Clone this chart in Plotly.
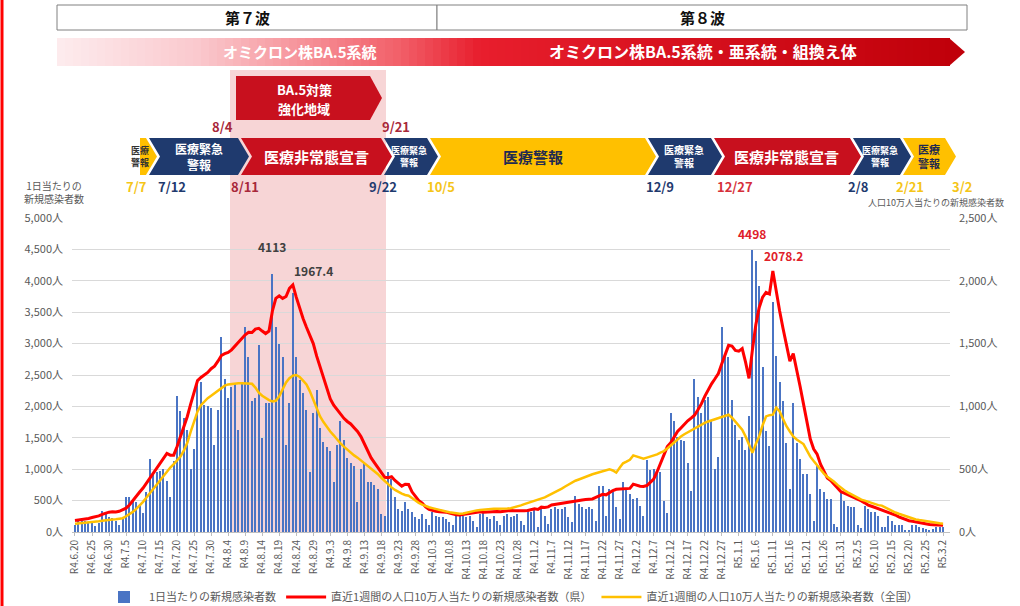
import pandas as pd
import plotly.graph_objects as go

# ---- data ----
START_DATE = "2022-06-20"
END_DATE = "2023-03-02"

# 1日当たりの新規感染者数 (人)
DAILY_CASES = [
    110, 190, 180, 170, 160, 150, 100, 140, 340, 290,
    240, 220, 180, 110, 240, 550, 550, 500, 470, 420,
    300, 630, 1170, 920, 950, 970, 1000, 815, 550, 1130,
    2160, 1920, 1815, 1630, 1000, 1315, 2370, 2390, 2025, 2000,
    1970, 1380, 1950, 3100, 2435, 2130, 2310, 2370, 1630, 2370,
    3270, 2790, 2080, 2130, 2970, 1500, 2060, 2050, 4113, 3270,
    3000, 2790, 1390, 2050, 3810, 2790, 2420, 2210, 1950, 950,
    1890, 2260, 1660, 1430, 1360, 1290, 790, 1380, 1760, 1470,
    1180, 1100, 1050, 470, 1000, 1100, 790, 790, 750, 680,
    290, 260, 950, 840, 550, 370, 340, 470, 370, 320,
    240, 210, 290, 210, 105, 320, 260, 240, 240, 210,
    160, 105, 260, 290, 260, 240, 260, 180, 80, 290,
    320, 240, 210, 260, 180, 105, 260, 290, 240, 260,
    290, 180, 105, 370, 320, 370, 80, 420, 260, 130,
    370, 400, 370, 370, 400, 240, 160, 580, 450, 400,
    370, 400, 370, 180, 740, 730, 260, 680, 630, 400,
    210, 790, 680, 600, 530, 540, 420, 260, 1150, 980,
    1000, 970, 950, 500, 300, 1900, 1760, 1520, 1460, 1450,
    1100, 660, 2430, 2150, 1890, 2100, 2150, 1780, 1000, 1200,
    3260, 2790, 2790, 2100, 1700, 1470, 1520, 1300, 1850, 4498,
    4313, 3919, 2630, 1604, 1368, 3656, 2800, 2390, 2080, 1420,
    690, 2050, 1420, 1160, 920, 920, 600, 180, 1050, 690,
    630, 530, 530, 130, 80, 630, 500, 420, 400, 400,
    105, 60, 420, 370, 320, 320, 260, 80, 80, 260,
    180, 105, 105, 105, 30, 30, 105, 105, 80, 65,
    55, 30, 55, 80, 80, 80,
]

# 直近1週間の人口10万人当たりの新規感染者数（県）
WEEKLY_PREF = [
    92, 95, 98, 102, 108, 115, 120, 128, 140, 152,
    158, 162, 160, 165, 175, 190, 215, 250, 290, 318,
    350, 390, 430, 470, 510, 550, 590, 626, 612, 612,
    680, 760, 840, 920, 1020, 1120, 1205, 1230, 1250, 1270,
    1300, 1320, 1360, 1405, 1420, 1430, 1450, 1480, 1515, 1545,
    1570, 1590, 1588, 1615, 1622, 1600, 1580, 1600, 1760, 1860,
    1880, 1860, 1875, 1940, 1967.4, 1870, 1780, 1700, 1630, 1560,
    1500, 1400, 1310, 1230, 1140, 1060, 1010, 975, 940, 905,
    880, 860, 830, 800, 760, 700, 640, 590, 550, 510,
    470, 435, 432, 440, 410, 385, 365, 380, 378, 320,
    280, 250, 230, 200, 180, 170, 165, 162, 160, 158,
    150, 142, 138, 135, 140, 148, 150, 155, 158, 162,
    158, 160, 162, 165, 163, 162, 166, 170, 171, 170,
    168, 172, 170, 172, 176, 185, 180, 198, 196, 200,
    215, 220, 224, 228, 232, 236, 240, 250, 252, 255,
    258, 262, 263, 275, 290, 300, 296, 316, 330, 340,
    342, 344, 346, 347, 381, 372, 365, 363, 370, 395,
    421, 480, 552, 620, 680, 710, 760, 800, 828, 860,
    885, 907, 930, 973, 1020, 1080, 1131, 1180, 1220, 1262,
    1340, 1420, 1486, 1480, 1446, 1440, 1460, 1350, 1223, 1450,
    1650, 1788, 1870, 1907, 1894, 2078.2, 1900, 1760, 1620, 1480,
    1360, 1420, 1300, 1160, 1020, 870, 740, 660, 620, 540,
    480, 430, 410, 380, 350, 321, 310, 298, 288, 276,
    262, 248, 232, 214, 205, 195, 185, 176, 171, 160,
    148, 135, 120, 108, 98, 90, 85, 79, 75, 70,
    65, 60, 58, 56, 54, 53,
]

# 直近1週間の人口10万人当たりの新規感染者数（全国）
WEEKLY_NATION = [
    66, 68, 70, 72, 75, 78, 82, 85, 90, 95,
    98, 100, 102, 105, 110, 125, 140, 160, 184, 210,
    240, 275, 310, 342, 375, 410, 445, 480, 513, 540,
    570, 600, 650, 710, 800, 890, 960, 1010, 1040, 1065,
    1085, 1105, 1125, 1150, 1165, 1175, 1180, 1183, 1185, 1185,
    1183, 1185, 1180, 1150, 1110, 1085, 1065, 1050, 1040, 1045,
    1080, 1140, 1190, 1225, 1245, 1250, 1235, 1205, 1175, 1120,
    1050, 980, 920, 875, 835, 800, 770, 736, 705, 680,
    655, 630, 610, 592, 570, 548, 525, 505, 486, 460,
    432, 405, 380, 355, 335, 318, 305, 295, 289, 270,
    250, 232, 218, 205, 197, 190, 182, 175, 168, 163,
    158, 152, 148, 145, 148, 155, 162, 168, 172, 176,
    180, 183, 184, 186, 185, 184, 185, 187, 189, 195,
    203, 212, 222, 231, 238, 246, 254, 263, 276, 290,
    303, 316, 329, 346, 362, 378, 393, 408, 418, 430,
    440, 450, 460, 468, 477, 485, 492, 500, 490, 473,
    512, 547, 560, 575, 610, 600, 590, 584, 592, 600,
    605, 618, 632, 644, 665, 690, 715, 738, 760, 778,
    794, 810, 826, 842, 856, 868, 880, 890, 900, 910,
    918, 926, 934, 910, 881, 850, 815, 760, 690, 631,
    700, 763, 850, 920, 930, 934, 990, 960, 900, 842,
    800, 760, 736, 715, 700, 650, 600, 565, 530, 495,
    465, 440, 421, 400, 375, 350, 332, 316, 302, 288,
    270, 258, 250, 240, 230, 220, 214, 210, 195, 180,
    165, 155, 145, 135, 126, 115, 105, 100, 95, 90,
    85, 79, 75, 72, 69, 66,
]

DATES = pd.date_range(START_DATE, END_DATE, freq="D")
TICK_DATES = DATES[::5]
TICK_LABELS = [f"R{d.year - 2018}.{d.month}.{d.day}" for d in TICK_DATES]

# ---- pixel helpers (plot area: x 72..950, y 218..532) ----
L, R, T, B = 72, 70, 218, 74
W, H = 1020, 606
PW, PH = W - L - R, H - T - B


def px(x):
    return (x - L) / PW


def py(y):
    return (T + PH - y) / PH


NAVY = "#1F3A6E"
RED = "#C8101E"
YEL = "#FFC000"
GRAY = "#595959"
FONT = "Noto Sans CJK JP, sans-serif"

fig = go.Figure()

fig.add_trace(
    go.Bar(
        x=DATES,
        y=DAILY_CASES,
        name="1日当たりの新規感染者数",
        marker=dict(color="#4A74C4", line=dict(width=0)),
        width=86400000 * 0.36,
    )
)
fig.add_trace(
    go.Scatter(
        x=DATES,
        y=WEEKLY_PREF,
        name="直近1週間の人口10万人当たりの新規感染者数（県）",
        mode="lines",
        line=dict(color="#FF0000", width=3),
        yaxis="y2",
    )
)
fig.add_trace(
    go.Scatter(
        x=DATES,
        y=WEEKLY_NATION,
        name="直近1週間の人口10万人当たりの新規感染者数（全国）",
        mode="lines",
        line=dict(color=YEL, width=2.5),
        yaxis="y2",
    )
)

shapes = []
annots = []


def text(x, y, s, size, color, bold=True, xanchor="center", yanchor="middle"):
    annots.append(
        dict(
            x=px(x), y=py(y), xref="paper", yref="paper", text=f"<b>{s}</b>" if bold else s,
            showarrow=False, xanchor=xanchor, yanchor=yanchor,
            font=dict(size=size, color=color, family=FONT),
        )
    )


def poly(points, color):
    d = "M " + " L ".join(f"{px(a):.5f},{py(b):.5f}" for a, b in points) + " Z"
    shapes.append(dict(type="path", path=d, xref="paper", yref="paper",
                       fillcolor=color, line=dict(width=0), layer="above"))


def chevron(x0, x1, color, notch=11, tip=11, y0=138, y1=175):
    ym = (y0 + y1) / 2
    poly([(x0, y0), (x1, y0), (x1 + tip, ym), (x1, y1), (x0, y1), (x0 + notch, ym)], color)


# pink band (BA.5対策強化地域)
shapes.append(dict(type="rect", xref="paper", yref="paper", x0=px(230), x1=px(386),
                   y0=py(70), y1=py(532), fillcolor="#F7D5D6", line=dict(width=0), layer="below"))

# left red frame line
shapes.append(dict(type="line", xref="paper", yref="paper", x0=px(2), x1=px(2),
                   y0=py(0), y1=py(606), line=dict(color="#FF0000", width=3)))

# wave header boxes
for x0, x1, label in [(57, 437, "第７波"), (437, 967, "第８波")]:
    shapes.append(dict(type="rect", xref="paper", yref="paper", x0=px(x0), x1=px(x1),
                       y0=py(5), y1=py(30), fillcolor="white",
                       line=dict(color="#808080", width=1), layer="above"))
    text((x0 + x1) / 2, 17.5, label, 15, "#111111")

# gradient variant arrow
stops = [(57, (253, 236, 238)), (200, (250, 200, 205)), (400, (242, 95, 105)),
         (480, (232, 30, 45)), (950, (192, 0, 10))]
step = 8
x = 57
while x < 950:
    xm = x + step / 2
    for (a, ca), (b, cb) in zip(stops[:-1], stops[1:]):
        if a <= xm <= b:
            f = (xm - a) / (b - a)
            c = tuple(int(round(ca[i] + (cb[i] - ca[i]) * f)) for i in range(3))
            break
    shapes.append(dict(type="rect", xref="paper", yref="paper", x0=px(x), x1=px(min(x + step + 0.6, 950)),
                       y0=py(38), y1=py(66), fillcolor=f"rgb{c}", line=dict(width=0), layer="above"))
    x += step
poly([(949, 38), (965, 52), (949, 66)], "rgb(192,0,10)")
text(300, 51, "オミクロン株BA.5系統", 15, "white")
text(703, 51, "オミクロン株BA.5系統・亜系統・組換え体", 16, "white")

# BA.5 対策強化地域
poly([(236, 76), (370, 76), (382, 98), (370, 120), (236, 120)], RED)
text(304, 89, "BA.5対策", 13, "white")
text(304, 108, "強化地域", 13, "white")
text(222, 126, "8/4", 13, "#A8283A")
text(396, 126, "9/21", 13, "#A8283A")

# alert level chevrons
chevron(140, 146, YEL, notch=0)
chevron(149, 238, NAVY)
chevron(241, 381, RED)
chevron(384, 427, NAVY)
chevron(430, 645, YEL)
chevron(648, 711, NAVY)
chevron(714, 850, RED)
chevron(853, 900, NAVY)
chevron(903, 945, YEL)

text(140, 156, "医療<br>警報", 9, "#333333")
text(199, 156, "医療緊急<br>警報", 12, "white")
text(316, 157, "医療非常態宣言", 15, "white")
text(409, 156, "医療緊急<br>警報", 9, "white")
text(533, 157, "医療警報", 15, "#1F2A50")
text(684, 156, "医療緊急<br>警報", 10, "white")
text(786, 157, "医療非常態宣言", 15, "white")
text(880, 156, "医療緊急<br>警報", 9, "white")
text(929, 156, "医療<br>警報", 11, "#1F2A50")

for xx, s, col in [(136, "7/7", "#F5C518"), (172, "7/12", NAVY), (245, "8/11", "#A8283A"),
                   (383, "9/22", NAVY), (441, "10/5", "#F5C518"), (660, "12/9", NAVY),
                   (735, "12/27", "#D6303A"), (858, "2/8", NAVY), (910, "2/21", "#F5C518"),
                   (962, "3/2", "#F5C518")]:
    text(xx, 186, s, 13, col)

# axis titles
text(22, 192, "1日当たりの<br>新規感染者数", 10, GRAY, bold=False, xanchor="left")
text(936, 203, "人口10万人当たりの新規感染者数", 9, GRAY, bold=False)

# peak labels (data-anchored)
annots += [
    dict(x=DATES[58], y=4113, text="<b>4113</b>", showarrow=False, yshift=27,
         font=dict(size=12, color="#404040", family=FONT)),
    dict(x=DATES[64], y=1967.4, yref="y2", text="<b>1967.4</b>", showarrow=False,
         yshift=14, xshift=21, font=dict(size=12, color="#404040", family=FONT)),
    dict(x=DATES[199], y=4498, text="<b>4498</b>", showarrow=False, yshift=16,
         font=dict(size=12, color="#E0202A", family=FONT)),
    dict(x=DATES[205], y=2078.2, yref="y2", text="<b>2078.2</b>", showarrow=False,
         yshift=15, xshift=11, font=dict(size=12, color="#E0202A", family=FONT)),
]

x_start = DATES[0] - pd.Timedelta(hours=21)
x_end = DATES[0] + pd.Timedelta(hours=int(257.06 * 24))

fig.update_layout(
    width=W,
    height=H,
    margin=dict(l=L, r=R, t=T, b=B, autoexpand=False),
    paper_bgcolor="white",
    plot_bgcolor="rgba(0,0,0,0)",
    font=dict(family=FONT, color=GRAY),
    bargap=0,
    showlegend=True,
    legend=dict(orientation="h", x=0.5, xanchor="center", y=py(597), yanchor="middle",
                font=dict(size=11, color=GRAY), itemwidth=40, traceorder="normal"),
    xaxis=dict(
        type="date",
        range=[x_start, x_end],
        tickmode="array",
        tickvals=TICK_DATES,
        ticktext=TICK_LABELS,
        tickangle=-90,
        tickfont=dict(size=10, color=GRAY),
        showgrid=False,
        showline=True,
        linecolor="#BFBFBF",
        ticks="outside",
        ticklen=3,
        tickcolor="#BFBFBF",
    ),
    yaxis=dict(
        range=[0, 5000],
        dtick=500,
        tickformat=",",
        ticksuffix="人",
        tickfont=dict(size=11, color=GRAY),
        gridcolor="#D9D9D9",
        zeroline=False,
        ticklabelstandoff=8,
    ),
    yaxis2=dict(
        range=[0, 2500],
        dtick=500,
        tickformat=",",
        ticksuffix="人",
        overlaying="y",
        side="right",
        showgrid=False,
        zeroline=False,
        tickfont=dict(size=11, color=GRAY),
        ticklabelstandoff=8,
    ),
    shapes=shapes,
    annotations=annots,
    hovermode=False,
)

# remove the default page margin so the figure sits at the window's top-left corner
fig.write_html(
    "out.html",
    config={"displayModeBar": False},
    post_script="document.body.style.margin='0';",
)
